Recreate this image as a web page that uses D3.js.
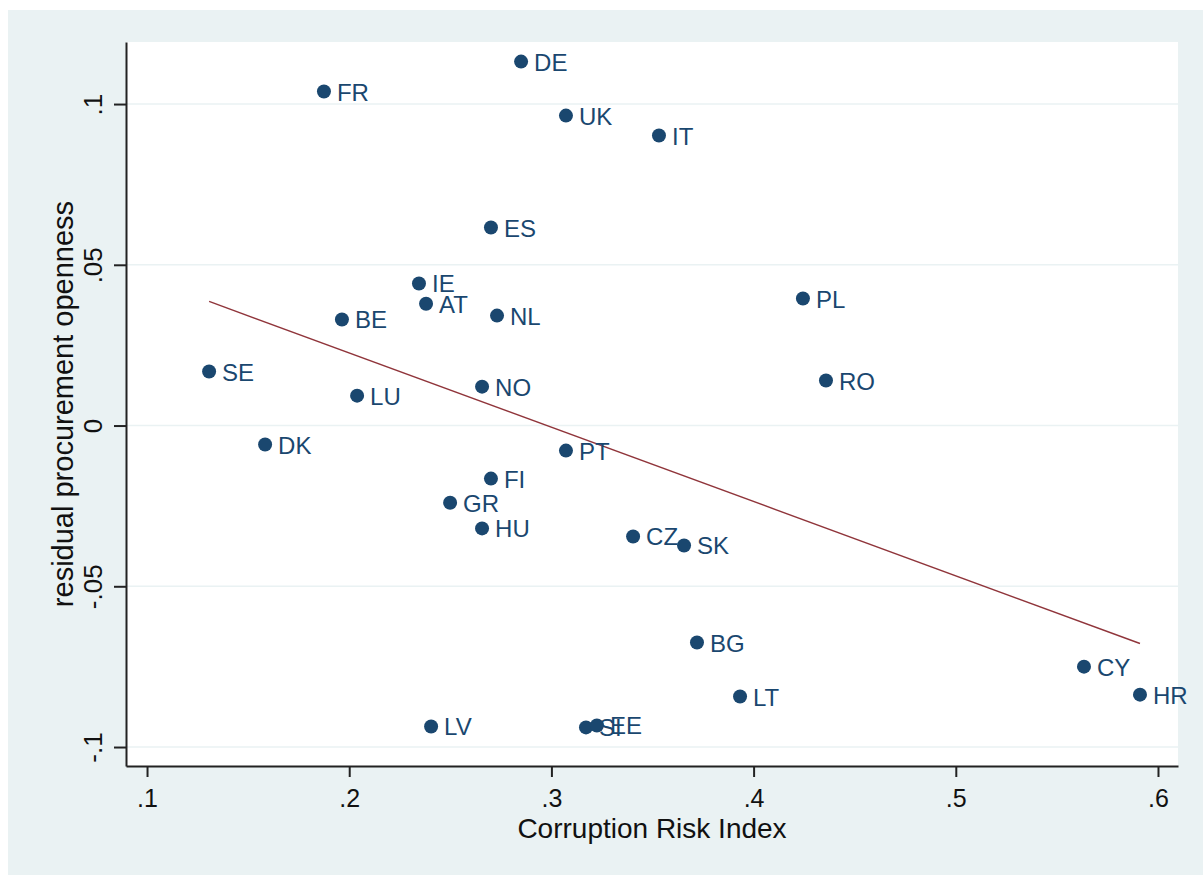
<!DOCTYPE html>
<html>
<head>
<meta charset="utf-8">
<script src="https://cdn.jsdelivr.net/npm/d3@7"></script>
<style>
  body { margin: 0; background: #fff; }
  svg text { font-family: "Liberation Sans", Arial, sans-serif; }
</style>
</head>
<body>
<svg id="chart" width="1203" height="875"></svg>
<script>
// data
let countries = ['DE','FR','UK','IT','ES','IE','AT','BE','NL','PL','SE','RO','LU','NO','DK','PT','FI','GR','HU','CZ','SK','BG','CY','LT','HR','LV','SI','EE'];
let criValues = [0.285,0.1875,0.3072,0.3532,0.2701,0.2345,0.238,0.1964,0.2731,0.4244,0.1307,0.4358,0.2039,0.2657,0.1584,0.3072,0.2701,0.2499,0.2657,0.3404,0.3656,0.372,0.5634,0.3933,0.5911,0.2405,0.3171,0.3225];
let residValues = [0.1132,0.1039,0.0964,0.0902,0.0616,0.0442,0.0379,0.033,0.0342,0.0395,0.0168,0.014,0.0093,0.0121,-0.0059,-0.0078,-0.0165,-0.024,-0.032,-0.0345,-0.0373,-0.0675,-0.075,-0.0843,-0.0837,-0.0936,-0.0939,-0.0933];
let fitX = [0.1307, 0.5911];
let fitY = [0.0386, -0.0678];
let xTicks = [0.1,0.2,0.3,0.4,0.5,0.6];
let xTickLabels = ['.1','.2','.3','.4','.5','.6'];
let yTicks = [-0.1,-0.05,0,0.05,0.1];
let yTickLabels = ['-.1','-.05','0','.05','.1'];

let navy = '#1a476f', red = '#90353b', bg = '#eaf2f3';
let plot = {left: 126, top: 42, right: 1178, bottom: 766};

let svg = d3.select('#chart');

// outer panel
svg.append('rect').attr('x', 8).attr('y', 10).attr('width', 1195).attr('height', 865).attr('fill', bg);
svg.append('rect').attr('x', plot.left).attr('y', plot.top)
  .attr('width', plot.right - plot.left).attr('height', plot.bottom - plot.top).attr('fill', '#fff');

let x = d3.scaleLinear().domain([0.0896, 0.6099]).range([plot.left, plot.right]);
let y = d3.scaleLinear().domain([-0.1059, 0.1193]).range([plot.bottom, plot.top]);

// gridlines
svg.append('g').selectAll('line').data(yTicks).join('line')
  .attr('x1', plot.left).attr('x2', plot.right)
  .attr('y1', d => y(d)).attr('y2', d => y(d))
  .attr('stroke', bg).attr('stroke-width', 1.5);

// fit line
svg.append('line')
  .attr('x1', x(fitX[0])).attr('y1', y(fitY[0]))
  .attr('x2', x(fitX[1])).attr('y2', y(fitY[1]))
  .attr('stroke', red).attr('stroke-width', 1.4);

// points + labels
let pts = svg.append('g');
countries.forEach(function(c, i) {
  pts.append('circle').attr('cx', x(criValues[i])).attr('cy', y(residValues[i]))
    .attr('r', 7).attr('fill', navy);
  pts.append('text').attr('x', x(criValues[i]) + 13).attr('y', y(residValues[i]) + 9)
    .attr('font-size', 24).attr('fill', navy).text(c);
});

// x axis
let xAxis = svg.append('g').attr('transform', 'translate(0,' + plot.bottom + ')')
  .call(d3.axisBottom(x).tickValues(xTicks).tickSize(11).tickSizeOuter(0)
    .tickFormat((d, i) => xTickLabels[i]));
xAxis.select('.domain').attr('stroke', '#222').attr('stroke-width', 2);
xAxis.selectAll('.tick line').attr('stroke', '#222').attr('stroke-width', 2);
xAxis.selectAll('.tick text').attr('font-size', 25).attr('fill', '#111')
  .attr('font-family', '"Liberation Sans", Arial, sans-serif')
  .attr('y', 41).attr('dy', null);

// y axis
let yAxis = svg.append('g').attr('transform', 'translate(' + plot.left + ',0)')
  .call(d3.axisLeft(y).tickValues(yTicks).tickSize(12).tickSizeOuter(0)
    .tickFormat((d, i) => yTickLabels[i]));
yAxis.select('.domain').attr('stroke', '#222').attr('stroke-width', 2);
yAxis.selectAll('.tick line').attr('stroke', '#222').attr('stroke-width', 2);
yAxis.selectAll('.tick text').attr('font-size', 26).attr('fill', '#111')
  .attr('font-family', '"Liberation Sans", Arial, sans-serif')
  .attr('x', null).attr('dy', null).attr('text-anchor', 'middle')
  .attr('transform', 'translate(-24,0) rotate(-90)');

// axis titles
svg.append('text').attr('x', (plot.left + plot.right) / 2).attr('y', 838)
  .attr('text-anchor', 'middle').attr('font-size', 28).attr('fill', '#111')
  .text('Corruption Risk Index');
svg.append('text').attr('transform', 'translate(73,' + ((plot.top + plot.bottom) / 2) + ') rotate(-90)')
  .attr('text-anchor', 'middle').attr('font-size', 29).attr('fill', '#111')
  .text('residual procurement openness');
</script>
</body>
</html>
